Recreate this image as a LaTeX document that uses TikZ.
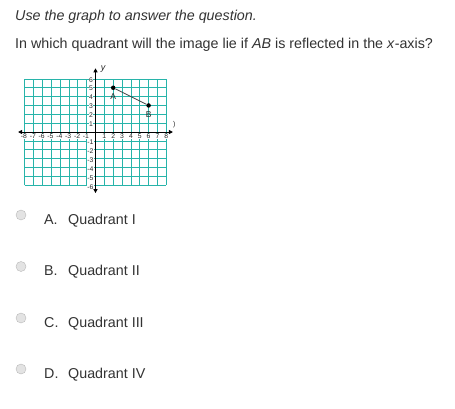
\documentclass[tikz,border=0pt]{standalone}
\usepackage{fontspec}
\setmainfont{Liberation Sans}
\usetikzlibrary{arrows.meta}
\definecolor{gridc}{RGB}{40,180,170}
\definecolor{txt}{RGB}{51,51,51}
\tikzset{
  qtext/.style={inner sep=0pt, text=txt, font=\fontsize{14.3}{16}\selectfont, anchor=base west},
  opt/.style={inner sep=0pt, text=txt, font=\fontsize{14.3}{16}\selectfont, anchor=base west},
  radio/.style={circle, minimum size=10pt, inner sep=0pt, draw=gray!55, fill=gray!22},
  tick/.style={inner sep=0.2pt, fill=white, text=black!85, font=\fontsize{6.8}{7}\selectfont},
  dot/.style={circle, fill=black, inner sep=0pt, minimum size=4.5pt},
  ptlab/.style={inner sep=0pt, text=black!85, font=\fontsize{8.5}{9}\selectfont},
  axis/.style={draw=black, line width=1pt, {Triangle[length=4pt,width=4pt]}-{Triangle[length=4pt,width=4pt]}}
}
\begin{document}
\begin{tikzpicture}[x=1pt,y=-1pt]
\useasboundingbox (0,0) rectangle (455,408);
\fill[white] (0,0) rectangle (455,408);
\node[qtext] (q1) at (15,20) {\itshape Use the graph to answer the question.};
\node[qtext] (q2) at (15,48.5) {In which quadrant will the image lie if \textit{AB} is reflected in the \textit{x}-axis?};
\begin{scope}[shift={(95.5pt,-132pt)}, x=8.85pt, y=8.85pt]
  \foreach \i in {-8,...,8} {\draw[gridc, line width=0.7pt] (\i,-6) -- (\i,6);}
  \foreach \j in {-6,...,6} {\draw[gridc, line width=0.7pt] (-8,\j) -- (8,\j);}
  \foreach \i in {1,...,8} {
    \node[tick] (xp\i) at (\i,-0.5) {\i};
    \node[tick, anchor=east] (xn\i) at (-\i+0.3,-0.5) {-\i};
  }
  \foreach \i in {1,...,6} {
    \node[tick] (yp\i) at (-0.5,\i-0.1) {\i};
    \node[tick, anchor=east] (yn\i) at (-0.2,-\i-0.2) {-\i};
  }
  \coordinate (xl) at (-8.75,0);
  \coordinate (xr) at (8.75,0);
  \coordinate (yt) at (0,7.2);
  \coordinate (yb) at (0,-6.9);
  \draw[axis] (xl) -- (xr);
  \draw[axis] (yb) -- (yt);
  \node[inner sep=0pt, font=\fontsize{9}{10}\selectfont\itshape, text=black!85] (ylab) at (0.85,7.15) {y};
  \node[inner sep=0pt, font=\fontsize{7}{8}\selectfont, text=black!85] (xlab) at (8.9,0.85) {)};
  \node[dot] (A) at (2,5) {};
  \node[dot] (B) at (6,3) {};
  \draw[black!75, line width=0.8pt] (A) -- (B);
  \node[ptlab] (Alab) at (2,4) {A};
  \node[ptlab] (Blab) at (6,2) {B};
\end{scope}
\foreach \l/\t/\y/\n in {A/I/215/ra, B/II/266.5/rb, C/III/318/rc, D/IV/369/rd} {
  \node[radio] (\n) at (21,\y) {};
  \node[opt] (\n l) at (44,\y+9) {\l.};
  \node[opt] (\n t) at (68,\y+9) {Quadrant \t};
}
\end{tikzpicture}
\end{document}
